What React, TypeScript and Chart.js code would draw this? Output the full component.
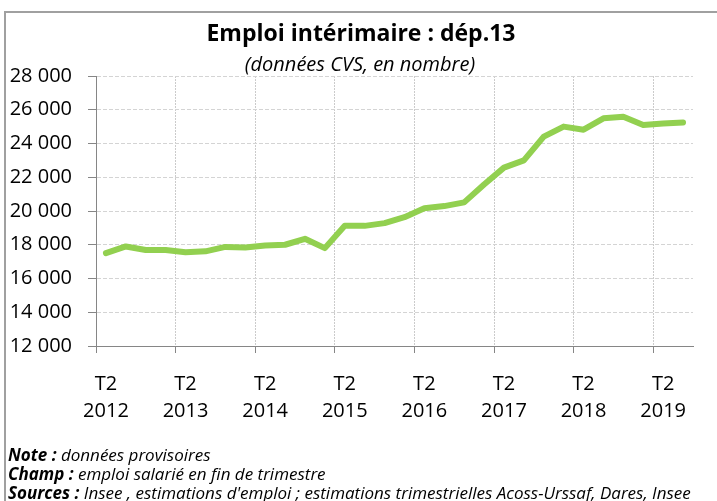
import React, { useEffect, useRef } from "react";
import { Chart, registerables } from "chart.js";

Chart.register(...registerables);

const quarters: string[] = [
  "T2 2012", "T3 2012", "T4 2012",
  "T1 2013", "T2 2013", "T3 2013", "T4 2013",
  "T1 2014", "T2 2014", "T3 2014", "T4 2014",
  "T1 2015", "T2 2015", "T3 2015", "T4 2015",
  "T1 2016", "T2 2016", "T3 2016", "T4 2016",
  "T1 2017", "T2 2017", "T3 2017", "T4 2017",
  "T1 2018", "T2 2018", "T3 2018", "T4 2018",
  "T1 2019", "T2 2019", "T3 2019",
];

const emploiInterimaire: number[] = [
  17500, 17900, 17690,
  17690, 17550, 17610, 17870,
  17840, 17960, 18000, 18350,
  17800, 19120, 19120, 19280,
  19630, 20160, 20290, 20510,
  21570, 22570, 23000, 24410,
  25000, 24820, 25490, 25590,
  25100, 25180, 25250,
];

const yMin = 12000;
const yMax = 28000;
const yStep = 2000;

const titleText = "Emploi intérimaire : dép.13";
const subtitleText = "(données CVS, en nombre)";
const notes: [string, string][] = [
  ["Note :", " données provisoires"],
  ["Champ :", " emploi salarié en fin de trimestre"],
  ["Sources :", " Insee , estimations d'emploi ; estimations trimestrielles Acoss-Urssaf, Dares, Insee"],
];

const FONT = "'Open Sans', 'DejaVu Sans', sans-serif";

function formatThousands(v: number): string {
  return String(v).replace(/\B(?=(\d{3})+(?!\d))/g, " ");
}

export default function App() {
  const canvasRef = useRef<HTMLCanvasElement | null>(null);

  useEffect(() => {
    const canvas = canvasRef.current;
    if (!canvas) return;
    const isMajor = (i: any) => typeof i === "number" && quarters[i] !== undefined && quarters[i].startsWith("T2");
    const chart = new Chart(canvas, {
      type: "line",
      data: {
        labels: quarters,
        datasets: [
          {
            label: "Emploi intérimaire",
            data: emploiInterimaire,
            borderColor: "#92D050",
            backgroundColor: "#92D050",
            borderWidth: 6,
            pointRadius: 0,
            pointHoverRadius: 0,
            tension: 0,
            borderJoinStyle: "round",
            borderCapStyle: "round",
            fill: false,
          },
        ],
      },
      options: {
        responsive: false,
        animation: false,
        devicePixelRatio: 1,
        layout: { padding: { left: 0, right: 24, top: 76, bottom: 75 } },
        plugins: {
          legend: { display: false },
          tooltip: { enabled: false },
          title: { display: false },
        },
        scales: {
          x: {
            type: "category",
            offset: true,
            afterFit: (scale: any) => {
              scale.height = 80;
            },
            grid: {
              offset: true,
              drawOnChartArea: true,
              drawTicks: true,
              tickLength: 7,
              lineWidth: 1,
              color: (ctx: any) => (isMajor(ctx.index) ? "#cbcbcb" : "rgba(0,0,0,0)"),
              tickColor: (ctx: any) => (isMajor(ctx.index) ? "#868686" : "rgba(0,0,0,0)"),
              tickBorderDash: [],
            },
            border: { display: true, color: "#868686", width: 1, dash: [2, 1] },
            ticks: {
              autoSkip: false,
              maxRotation: 0,
              minRotation: 0,
              padding: 17,
              color: "#000000",
              font: { family: FONT, size: 20, lineHeight: 1.38 },
              callback: function (_v: any, i: number) {
                const q = quarters[i];
                if (q && q.startsWith("T2")) {
                  const parts = q.split(" ");
                  return [parts[0], parts[1]];
                }
                return "";
              },
            },
          },
          y: {
            min: yMin,
            max: yMax,
            afterFit: (scale: any) => {
              scale.width = 96;
            },
            grid: {
              drawTicks: true,
              tickLength: 8,
              lineWidth: 1,
              color: "#d4d4d4",
              tickColor: "#868686",
              tickBorderDash: [],
            },
            border: { display: true, color: "#868686", width: 1, dash: [4, 2] },
            ticks: {
              stepSize: yStep,
              padding: 16,
              color: "#000000",
              font: { family: FONT, size: 20 },
              callback: (v: any) => formatThousands(Number(v)),
            },
          },
        },
      },
    });
    return () => chart.destroy();
  }, []);

  return (
    <div
      style={{
        position: "absolute",
        left: 0,
        top: 0,
        width: 717,
        height: 501,
        overflow: "hidden",
        background: "#ffffff",
        fontFamily: FONT,
      }}
    >
      <div
        style={{
          position: "absolute",
          left: 4,
          top: 11,
          width: 760,
          height: 600,
          border: "2px solid #a0a0a0",
          boxSizing: "border-box",
        }}
      />
      <canvas
        ref={canvasRef}
        width={717}
        height={501}
        style={{ position: "absolute", left: 0, top: 0, width: 717, height: 501 }}
      />
      <div
        style={{
          position: "absolute",
          left: 0,
          top: 19,
          width: 722,
          textAlign: "center",
          fontWeight: 700,
          fontSize: 23,
          lineHeight: "27px",
          color: "#000",
          whiteSpace: "nowrap",
        }}
      >
        {titleText}
      </div>
      <div
        style={{
          position: "absolute",
          left: 0,
          top: 52,
          width: 720,
          textAlign: "center",
          fontStyle: "italic",
          fontSize: 20,
          lineHeight: "23px",
          color: "#000",
          whiteSpace: "nowrap",
        }}
      >
        {subtitleText}
      </div>
      <div
        style={{
          position: "absolute",
          left: 8,
          top: 445,
          fontSize: 17,
          lineHeight: "19px",
          fontStyle: "italic",
          color: "#000",
          whiteSpace: "nowrap",
        }}
      >
        {notes.map(([k, t], i) => (
          <div key={i}>
            <span style={{ fontWeight: 700 }}>{k}</span>
            <span>{t}</span>
          </div>
        ))}
      </div>
    </div>
  );
}
